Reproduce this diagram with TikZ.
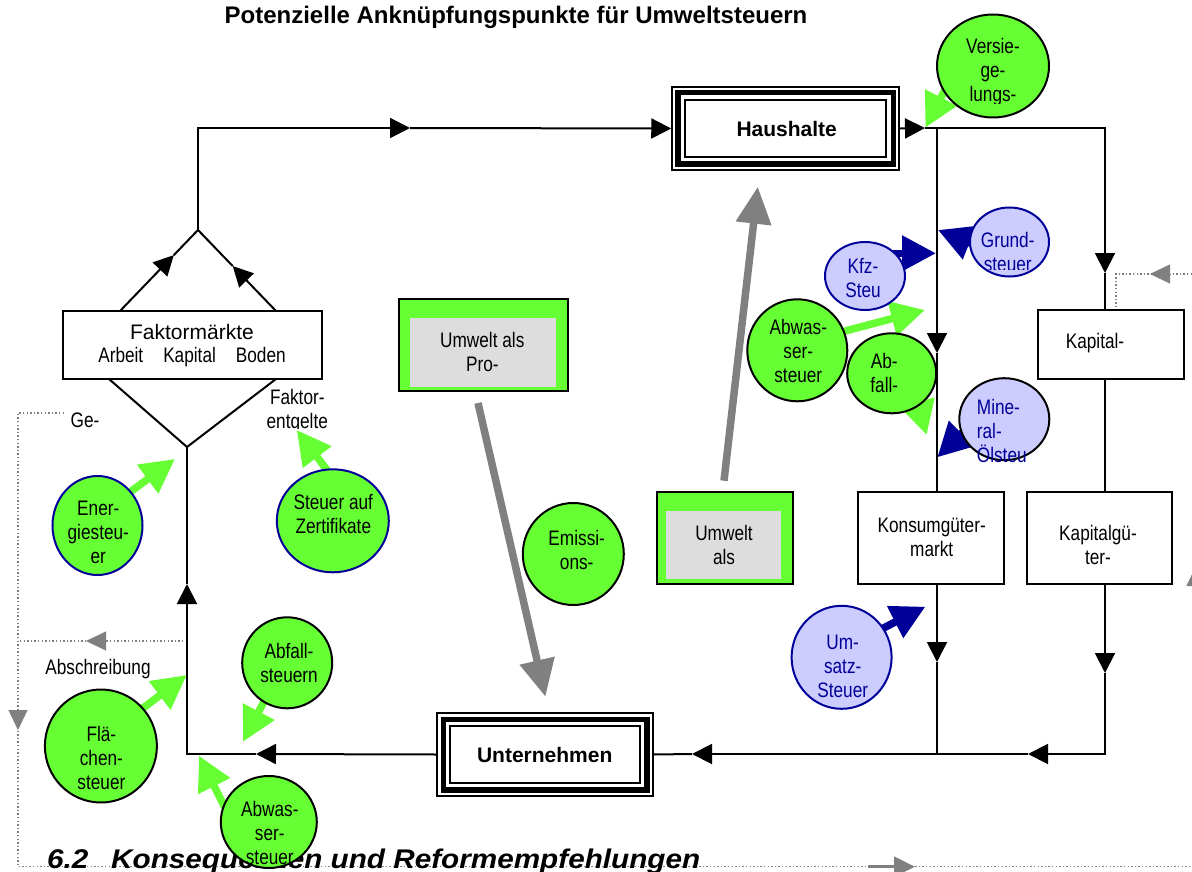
\documentclass[tikz,border=0pt]{standalone}
\usepackage{fontspec}
\setmainfont{Liberation Sans}
\newfontfamily\nar{Liberation Sans}[FakeStretch=0.82]
\newfontfamily\wide{Liberation Sans}[FakeStretch=1.1]
\usetikzlibrary{arrows.meta,shapes.geometric,calc}
\definecolor{grn}{HTML}{66FF33}
\definecolor{lblu}{HTML}{CCCCFF}
\definecolor{dblu}{HTML}{000099}
\definecolor{gry}{HTML}{808080}
\definecolor{lgry}{HTML}{DDDDDD}
\tikzset{
  flow/.style={line width=2pt,draw=black},
  blk/.style={-{Triangle[length=20pt,width=20pt]}},
  dotline/.style={draw=gry,line width=1.4pt,dash pattern=on 1.4pt off 2.2pt},
  ghead/.style={draw=gry,line width=0.3pt,-{Triangle[length=20pt,width=19pt]}},
  bigarrow/.style={draw=gry,line width=7.5pt,-{Triangle[length=37pt,width=34pt]}},
  garr/.style={draw=grn,line width=7.5pt,-{Triangle[length=34pt,width=34pt]}},
  barr/.style={draw=dblu,line width=7.5pt,-{Triangle[length=34pt,width=34pt]}},
  sz/.style 2 args={minimum width=#1pt,minimum height=#2pt},
  circ/.style={ellipse,draw,line width=2pt,inner sep=0pt},
  gc/.style={circ,fill=grn,draw=black},
  gcb/.style={circ,fill=grn,draw=dblu},
  bc/.style={circ,fill=lblu,draw=dblu},
  bck/.style={circ,fill=lblu,draw=black},
  txt/.style={font=\nar\fontsize{21}{24}\selectfont,align=center,inner sep=0pt},
  btxt/.style={txt,text=dblu},
  rbox/.style={draw=black,line width=1.8pt,fill=white,inner sep=0pt},
  gbox/.style={draw=black,line width=2pt,fill=grn,inner sep=0pt},
  ibox/.style={fill=lgry,inner sep=0pt},
  tbox/.style={draw=black,line width=1.5pt,fill=white,inner sep=0pt,font=\bfseries\fontsize{21}{24}\selectfont},
  headtxt/.style={anchor=base west,inner sep=0pt,font=\wide\bfseries\itshape\fontsize{27}{30}\selectfont},
}
\begin{document}
\begin{tikzpicture}[x=1pt,y=-1pt]
\useasboundingbox (0,0) rectangle (1192,872);
% title
\node[anchor=base,inner sep=0pt,font=\bfseries\fontsize{24}{28}\selectfont] (title) at (516,23.3) {Potenzielle Anknüpfungspunkte für Umweltsteuern};

% dotted feedback lines
\coordinate (g1) at (64,413);
\coordinate (g2) at (18,413);
\coordinate (g3) at (18,866.7);
\coordinate (g4) at (1192,866.7);
\draw[dotline] (g1) -- (g2) -- (g3) -- (g4);
\coordinate (gd1) at (18,710); \coordinate (gd2) at (18,730);
\draw[ghead] (gd1) -- (gd2);
\coordinate (ab1) at (187,641); \coordinate (ab2) at (18,641);
\draw[dotline] (ab1) -- (ab2);
\coordinate (ab3) at (106,641); \coordinate (ab4) at (86,641);
\draw[ghead] (ab3) -- (ab4);
\coordinate (r1) at (1192,274); \coordinate (r2) at (1116,274); \coordinate (r3) at (1116,310);
\draw[dotline] (r1) -- (r2) -- (r3);
\coordinate (r4) at (1170,274); \coordinate (r5) at (1150,274);
\draw[ghead] (r4) -- (r5);
\coordinate (re1) at (1196,586); \coordinate (re2) at (1196,566);
\draw[ghead] (re1) -- (re2);
\coordinate (bo1) at (868,866.7); \coordinate (bo2) at (915,866.7);
\draw[draw=gry,line width=2.5pt,-{Triangle[length=21pt,width=20pt]}] (bo1) -- (bo2);

% section heading (partly covered)
\node[headtxt] (sec) at (47,868) {6.2};
\node[headtxt] (sect) at (111,868) {Konsequenzen und Reformempfehlungen};

% green environment boxes
\node[gbox,sz={169}{92}] (UP) at (483.5,345) {};
\node[ibox,sz={146}{69}] (UPi) at (483,352.5) {};
\node[gbox,sz={136}{92}] (UA) at (724.5,538) {};
\node[ibox,sz={115}{68}] (UAi) at (723.5,545) {};

% big grey arrows
\coordinate (gs1) at (478,403); \coordinate (ge1) at (545.4,696.7);
\coordinate (gs2) at (724,480.7); \coordinate (ge2) at (757.8,186.7);
\draw[bigarrow] (gs1) -- (ge1);
\draw[bigarrow] (gs2) -- (ge2);

% tax arrows
\coordinate (vs) at (956.6,67.3);  \coordinate (vt) at (925.4,127.7);
\coordinate (grs) at (1006,257.5); \coordinate (grt) at (938,230);
\coordinate (ks) at (853.5,253.3); \coordinate (kt) at (936,253.3);
\coordinate (a1s) at (805,341.5);  \coordinate (a1t) at (925,310);
\coordinate (f1s) at (902.5,351);  \coordinate (f1t) at (926.7,435);
\coordinate (ms) at (992.7,402.7); \coordinate (mt) at (937.3,457.3);
\coordinate (es) at (103,512);     \coordinate (et) at (175,459);
\coordinate (zs) at (358,511);     \coordinate (zt) at (296.7,430);
\coordinate (f2s) at (282.8,665.7);\coordinate (f2t) at (243,741.7);
\coordinate (fls) at (114,730);    \coordinate (flt) at (186.8,675);
\coordinate (a2s) at (234,825.7);  \coordinate (a2t) at (199,755.7);
\coordinate (us) at (848,646);     \coordinate (ut) at (925.4,606.7);
\draw[garr] (vs) -- (vt);
\draw[barr] (grs) -- (grt);
\draw[barr] (ks) -- (kt);
\draw[garr] (a1s) -- (a1t);
\draw[garr] (f1s) -- (f1t);
\draw[barr] (ms) -- (mt);
\draw[garr] (es) -- (et);
\draw[garr] (zs) -- (zt);
\draw[garr] (f2s) -- (f2t);
\draw[garr] (fls) -- (flt);
\draw[garr] (a2s) -- (a2t);
\draw[barr] (us) -- (ut);

% circles
\node[gc,sz={112}{103}] (vers) at (993,66) {};
\node[bc,sz={79}{69}] (grund) at (1009.5,242) {};
\node[bc,sz={80}{68}] (kfz) at (865,276) {};
\node[gc,sz={100}{102}] (abw1) at (797.3,350.3) {};
\node[gc,sz={89}{80}] (abf1) at (891.7,373.3) {};
\node[bck,sz={90}{82}] (mine) at (1004.3,419.2) {};
\node[gcb,sz={90}{99}] (ener) at (97.5,525.5) {};
\node[gcb,sz={112}{103}] (zert) at (332.8,520.8) {};
\node[gc,sz={101}{102}] (emis) at (573.3,554) {};
\node[gc,sz={90}{91}] (abf2) at (287.2,662.8) {};
\node[gc,sz={112}{113}] (flae) at (100.9,746) {};
\node[gc,sz={96}{92}] (abw2) at (268.8,822) {};
\node[bc,sz={100}{103}] (ums) at (841.6,657.3) {};

% main boxes
\node[tbox,sz={227}{83}] (H) at (785.5,128.5) {};
\draw[line width=5.5pt] ([shift={(6.5,6.5)}]H.north west) rectangle ([shift={(-6.5,-6.5)}]H.south east);
\draw[line width=2.2pt] ([shift={(13.5,13.5)}]H.north west) rectangle ([shift={(-13.5,-13.5)}]H.south east);
\node[inner sep=0pt,font=\bfseries\fontsize{21}{24}\selectfont] (tH) at (786.7,128.5) {Haushalte};
\node[tbox,sz={216}{83}] (U) at (545,754.5) {};
\draw[line width=5.5pt] ([shift={(7,7)}]U.north west) rectangle ([shift={(-7,-7)}]U.south east);
\draw[line width=2.2pt] ([shift={(14,14)}]U.north west) rectangle ([shift={(-14,-14)}]U.south east);
\node[inner sep=0pt,font=\bfseries\fontsize{21}{24}\selectfont] (tU) at (544.7,755) {Unternehmen};
\node[rbox,sz={259}{68}] (FM) at (192.5,345) {};
\node[rbox,sz={146}{69}] (Kap) at (1111,344.5) {};
\node[rbox,sz={145}{92}] (KapG) at (1099.5,538) {};
\node[rbox,sz={146}{92}] (Kons) at (931.3,538) {};

% flow lines
\coordinate (uapex) at (198,230);
\coordinate (corner) at (198,128);
\coordinate (ta1) at (410,128);
\coordinate (u1) at (120,311);
\coordinate (u2) at (276,311);
\coordinate (ua1) at ($(u1)!0.69!(uapex)$);
\coordinate (ua2) at ($(u2)!0.555!(uapex)$);
\coordinate (d1) at (109,379);
\coordinate (d2) at (276,379);
\coordinate (lapex) at (187,447);
\coordinate (la1) at (187,584);
\coordinate (lcorner) at (187,754);
\coordinate (ba1) at (256,754);
\coordinate (ha) at (925,128);
\coordinate (j1) at (937,128);
\coordinate (j2) at (1105,128);
\coordinate (ra1) at (1105,273);
\coordinate (ka1) at (937,353);
\coordinate (ka2) at (937,662);
\coordinate (j3) at (937,754);
\coordinate (ra2) at (1105,673);
\coordinate (j4) at (1105,754);
\coordinate (ba2) at (1028,754);
\coordinate (ba3) at (692,754);

\draw[flow,blk] (u1) -- (ua1);
\draw[flow] (ua1) -- (uapex);
\draw[flow,blk] (u2) -- (ua2);
\draw[flow] (ua2) -- (uapex);
\draw[flow] (d1) -- (lapex) -- (d2);
\draw[flow,blk] (uapex) -- (corner) -- (ta1);
\draw[flow,blk] (ta1) -- (H.west);
\draw[flow,blk] (H.east) -- (ha);
\draw[flow] (ha) -- (j1);
\draw[flow,blk] (j1) -- (j2) -- (ra1);
\draw[flow] (ra1) -- (Kap.north -| ra1);
\draw[flow] (Kap.south -| ra1) -- (KapG.north -| ra1);
\draw[flow,blk] (KapG.south -| ra1) -- (ra2);
\draw[flow,blk] (ra2) -- (j4) -- (ba2);
\draw[flow,blk] (ba2) -- (j3) -- (ba3);
\draw[flow] (ba3) -- (U.east);
\draw[flow,blk] (j1) -- (ka1);
\draw[flow] (ka1) -- (Kons.north -| ka1);
\draw[flow,blk] (Kons.south -| ka1) -- (ka2);
\draw[flow] (ka2) -- (j3);
\draw[flow,blk] (U.west) -- (ba1);
\draw[flow,blk] (ba1) -- (lcorner) -- (la1);
\draw[flow] (la1) -- (lapex);

% box texts
\node[txt] (tUP) at (482.3,351.5) {Umwelt als\\Pro-};
\node[txt] (tUA) at (724,545) {Umwelt\\als};
\node[txt] (tKons) at (931.7,537) {Konsumgüter-\\markt};
\node[txt] (tKapG) at (1098,545.3) {Kapitalgü-\\ter-};
\node[txt] (tKap) at (1095,343) {Kapital-};
\node[inner sep=0pt,font=\fontsize{21}{24}\selectfont] (tFM) at (192,331.7) {Faktormärkte};
\node[txt] (tFM2) at (192,357.5) {Arbeit\hspace{20pt}Kapital\hspace{20pt}Boden};
\node[txt] (tGe) at (85,420) {Ge-};
\node[txt] (tAbs) at (98,669.3) {Abschreibung};
\begin{scope}
\clip (240,380) rectangle (345,428);
\node[txt] (tFE) at (297.3,411.5) {Faktor-\\entgelte};
\end{scope}

% circle texts
\begin{scope}
\clip (930,20) rectangle (1060,104);
\node[txt] (tvers) at (993,72.5) {Versie-\\ge-\\lungs-};
\end{scope}
\begin{scope}
\clip (960,200) rectangle (1060,269.5);
\node[btxt] (tgrund) at (1007.7,251.5) {Grund-\\steuer};
\end{scope}
\node[btxt] (tkfz) at (863,278.3) {Kfz-\\Steu};
\node[txt] (tabw1) at (798.3,351.2) {Abwas-\\ser-\\steuer};
\node[txt] (tabf1) at (884.3,372.8) {Ab-\\fall-};
\node[btxt,align=left,anchor=west] (tmine) at (976.7,430.8) {Mine-\\ral-\\Ölsteu};
\node[txt] (tener) at (98.3,532.5) {Ener-\\giesteu-\\er};
\node[txt] (tzert) at (333.3,514.2) {Steuer auf\\Zertifikate};
\node[txt] (temis) at (576.7,550) {Emissi-\\ons-};
\node[txt] (tabf2) at (289,662.5) {Abfall-\\steuern};
\node[txt] (tflae) at (101.4,757.5) {Flä-\\chen-\\steuer};
\begin{scope}
\clip (200,780) rectangle (340,866);
\node[txt] (tabw2) at (269.8,833) {Abwas-\\ser-\\steuer};
\end{scope}
\node[btxt] (tums) at (842.7,666.3) {Um-\\satz-\\Steuer};
\end{tikzpicture}
\end{document}
